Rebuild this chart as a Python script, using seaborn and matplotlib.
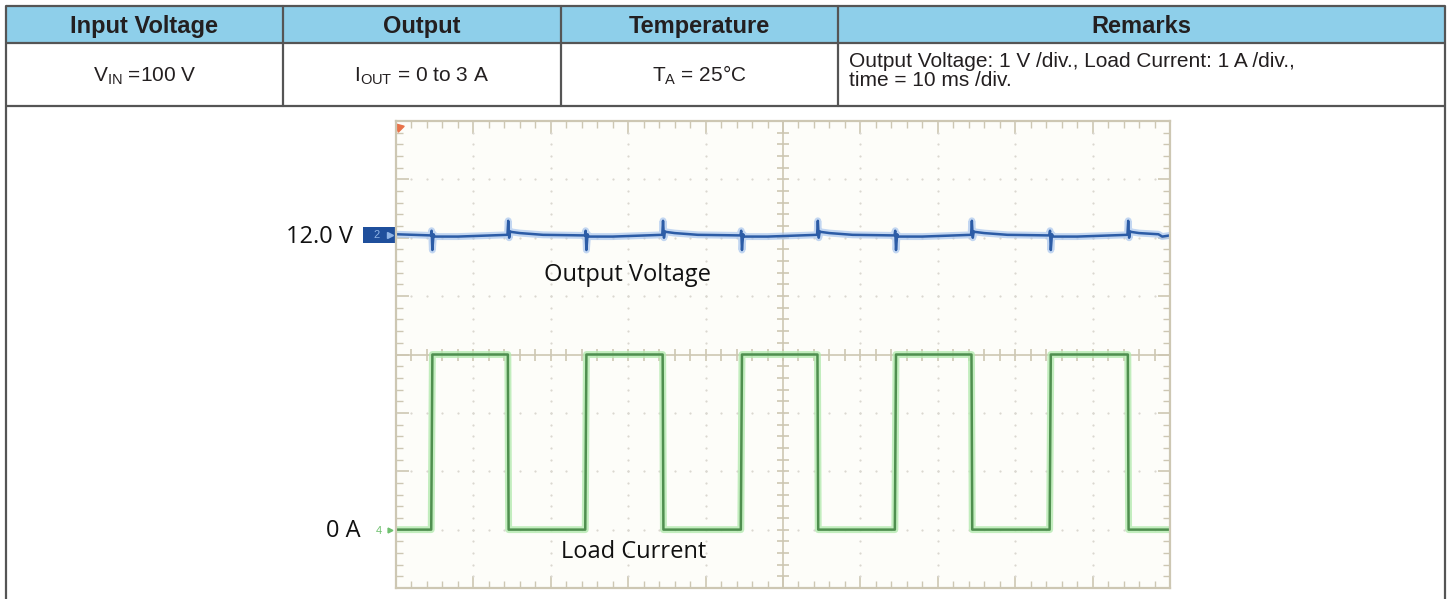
"""
Load transient scope capture with its test-condition table.
"""
import matplotlib
matplotlib.use("Agg")
import matplotlib.pyplot as plt
import seaborn as sns
import numpy as np
import pandas as pd
from matplotlib.patches import Rectangle

sns.set_theme(style="white")
plt.rcParams["font.family"] = ["Liberation Sans", "DejaVu Sans"]
plt.rcParams["mathtext.fontset"] = "custom"
plt.rcParams["mathtext.rm"] = "Liberation Sans"

# ---- table contents ----
headers = ["Input Voltage", "Output", "Temperature", "Remarks"]
conditions = [r"V$_{\mathregular{IN}}\;$=100 V",
              r"I$_{\mathregular{OUT}}\;$= 0 to 3 A",
              r"T$_{\mathregular{A}}\;$= 25°C"]
remarks = ["Output Voltage: 1 V /div., Load Current: 1 A /div.,",
           "time = 10 ms /div."]

# ---- scope settings ----
ms_per_div = 10
v_per_div = 1.0
a_per_div = 1.0
v_ref = 12.0          # volts at the channel 2 marker
v_ref_div = 2.05      # screen division of the channel 2 marker
i_ref_div = -3.0      # screen division of 0 A (channel 4)

# ---- output voltage trace (ms, V) ----
time_v = [0.0, 4.5, 4.6, 4.7, 4.85, 5.0, 8.0, 14.4,
          14.5, 14.62, 14.75, 14.9, 16.0, 19.0, 24.4,
          24.5, 24.6, 24.75, 24.9, 28.0, 34.4,
          34.5, 34.62, 34.75, 34.9, 36.0, 39.0, 44.5,
          44.6, 44.7, 44.85, 45.0, 48.0, 54.4,
          54.5, 54.62, 54.75, 54.9, 56.0, 59.0, 64.4,
          64.5, 64.6, 64.75, 64.9, 68.0, 74.3,
          74.4, 74.52, 74.65, 74.8, 76.0, 79.0, 84.4,
          84.5, 84.6, 84.75, 84.9, 88.0, 94.5,
          94.6, 94.72, 94.85, 95.0, 96.0, 98.5, 99.0, 100.0]
vout = [12.01, 11.99, 12.07, 11.74, 12.01, 11.97, 11.97, 12.00,
        12.24, 11.95, 12.06, 12.05, 12.03, 12.00, 11.99,
        12.07, 11.74, 12.01, 11.97, 11.97, 12.00,
        12.24, 11.95, 12.06, 12.05, 12.03, 12.00, 11.99,
        12.07, 11.74, 12.01, 11.97, 11.97, 12.00,
        12.24, 11.95, 12.06, 12.05, 12.03, 12.00, 11.99,
        12.07, 11.74, 12.01, 11.97, 11.97, 12.00,
        12.24, 11.95, 12.06, 12.05, 12.03, 12.00, 11.99,
        12.07, 11.74, 12.01, 11.97, 11.97, 12.00,
        12.24, 11.95, 12.06, 12.05, 12.03, 12.01, 11.97, 11.99]

# ---- load current trace (ms, A) ----
time_i = [0.0, 4.55, 4.7, 14.45, 14.55, 24.45, 24.6, 34.45, 34.55,
          44.55, 44.7, 54.45, 54.55, 64.45, 64.6, 74.35, 74.45,
          84.45, 84.6, 94.55, 94.65, 100.0]
iload = [0, 0, 3, 3, 0, 0, 3, 3, 0,
         0, 3, 3, 0, 0, 3, 3, 0,
         0, 3, 3, 0, 0]

W, H = 1449, 599
fig = plt.figure(figsize=(W / 100, H / 100), dpi=100)

# background axes in pixel units for the table
bg = fig.add_axes([0, 0, 1, 1])
bg.set_xlim(0, W)
bg.set_ylim(H, 0)
bg.axis("off")

col_x = [6, 283, 561, 838, 1445]
row_y = [5.5, 43, 106]
line_c = "#555555"
bg.add_patch(Rectangle((col_x[0], row_y[0]), col_x[-1] - col_x[0], row_y[1] - row_y[0],
                       facecolor="#8ecfea", edgecolor="none"))
for y in row_y:
    bg.plot([col_x[0], col_x[-1]], [y, y], color=line_c, lw=1.6, solid_capstyle="butt")
for x in col_x[1:-1]:
    bg.plot([x, x], [row_y[0], row_y[2]], color=line_c, lw=1.6)
for x in (col_x[0], col_x[-1]):
    bg.plot([x, x], [row_y[0], H + 5], color=line_c, lw=1.6)

for i, h in enumerate(headers):
    bg.text((col_x[i] + col_x[i + 1]) / 2, 33, h, ha="center", va="baseline",
            fontsize=17, fontweight="bold", color="#231f20")
for i, c in enumerate(conditions):
    bg.text((col_x[i] + col_x[i + 1]) / 2, 81, c, ha="center", va="baseline",
            fontsize=15, color="#231f20")
for line, yb in zip(remarks, [67, 86]):
    bg.text(849, yb, line, ha="left", va="baseline", fontsize=15, color="#231f20")

# ---- scope screen ----
x0, x1, y0, y1 = 396, 1170, 121, 588
ax = fig.add_axes([x0 / W, (H - y1) / H, (x1 - x0) / W, (y1 - y0) / H])
ax.set_facecolor("#fdfdf9")
ax.set_xlim(0, 10 * ms_per_div)
ax.set_ylim(-4, 4)
frame_c = "#cdc7b3"
for sp in ax.spines.values():
    sp.set_color(frame_c)
    sp.set_linewidth(1.6)
    sp.set_visible(True)
ax.set_xticks(np.arange(0, 101, 10))
ax.set_yticks(np.arange(-4, 5, 1))
ax.set_xticks(np.arange(0, 101, 2), minor=True)
ax.set_yticks(np.arange(-4, 4.01, 0.2), minor=True)
ax.tick_params(which="both", direction="in", top=True, right=True, bottom=True, left=True,
               labelbottom=False, labelleft=False, color=frame_c)
ax.tick_params(which="major", length=9, width=1.2)
ax.tick_params(which="minor", length=5, width=1.0)

# dotted graticule
dot_c = "#dad8d0"
for xd in np.arange(10, 100, 10):
    if xd != 50:
        ys = np.arange(-4, 4.01, 0.2)
        ax.plot(np.full_like(ys, xd), ys, ls="none", marker="o", ms=1.6, color=dot_c, mec="none")
for yd in np.arange(-3, 4, 1):
    if yd != 0:
        xs = np.arange(0, 100.1, 2)
        ax.plot(xs, np.full_like(xs, yd), ls="none", marker="o", ms=1.6, color=dot_c, mec="none")

# centre cross with ticks
ax.axvline(50, color=frame_c, lw=1.2, zorder=1)
ax.axhline(0, color=frame_c, lw=1.2, zorder=1)
ticks_y = np.arange(-4, 4.01, 0.2)
ax.plot(np.full_like(ticks_y, 50), ticks_y, ls="none", marker="_", ms=9, mew=1.2, color=frame_c)
ticks_x = np.arange(0, 100.1, 2)
ax.plot(ticks_x, np.zeros_like(ticks_x), ls="none", marker="|", ms=9, mew=1.2, color=frame_c)

# traces
df_v = pd.DataFrame({"t": time_v, "div": v_ref_div + (np.array(vout) - v_ref) / v_per_div})
df_i = pd.DataFrame({"t": time_i, "div": i_ref_div + np.array(iload) / a_per_div})
sns.lineplot(data=df_v, x="t", y="div", ax=ax, sort=False, estimator=None,
             color="#a9c6ee", lw=5, alpha=0.7)
sns.lineplot(data=df_v, x="t", y="div", ax=ax, sort=False, estimator=None,
             color="#2c5ca6", lw=1.8)
sns.lineplot(data=df_i, x="t", y="div", ax=ax, sort=False, estimator=None,
             color="#b4eab0", lw=5, alpha=0.8)
sns.lineplot(data=df_i, x="t", y="div", ax=ax, sort=False, estimator=None,
             color="#4f8f4f", lw=1.8)
ax.set_xlabel("")
ax.set_ylabel("")

# trigger mark
ax.plot([0.4], [3.9], marker=(3, 0, 45), ms=7, color="#e8734a", clip_on=False)

# channel markers (drawn in pixel units, outside the screen)
ax.add_patch(Rectangle((363, 227), 33, 16, transform=bg.transData, facecolor="#1f4f9c",
                       edgecolor="none", clip_on=False))
ax.text(377, 235.5, "2", transform=bg.transData, ha="center", va="center", fontsize=8,
        color="#8fb4e6", clip_on=False)
ax.plot([390], [235], transform=bg.transData, marker=">", ms=4, color="#8fb4e6", clip_on=False)
ax.text(379, 531, "4", transform=bg.transData, ha="center", va="center", fontsize=8,
        color="#6fc06f", clip_on=False)
ax.plot([390], [530], transform=bg.transData, marker=">", ms=3.5, color="#6fc06f", clip_on=False)

label_font = ["Open Sans", "DejaVu Sans"]
ax.text(353, 237, "12.0 V", transform=bg.transData, ha="right", va="center", fontsize=17,
        family=label_font, color="#111111", clip_on=False)
ax.text(361, 531, "0 A", transform=bg.transData, ha="right", va="center", fontsize=17,
        family=label_font, color="#111111", clip_on=False)
ax.text(627, 275, "Output Voltage", transform=bg.transData, ha="center", va="center",
        fontsize=17, family=label_font, color="#111111")
ax.text(634, 552, "Load Current", transform=bg.transData, ha="center", va="center",
        fontsize=17, family=label_font, color="#111111")

fig.savefig("out.png", dpi=100)
plt.close(fig)
